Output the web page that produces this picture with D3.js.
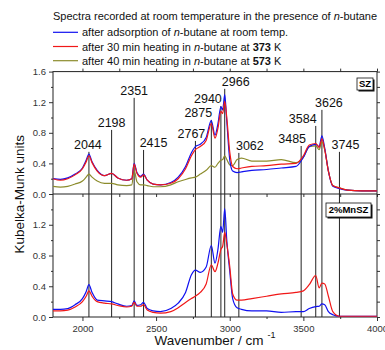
<!DOCTYPE html>
<html lang="en">
<head>
<meta charset="UTF-8">
<title>Kubelka-Munk spectra, SZ and 2%MnSZ</title>
<script src="https://d3js.org/d3.v7.min.js"></script>
<style>
    body { margin: 0; padding: 0; background: #fff; overflow: hidden; }
    svg { font-family: Arial, "Liberation Sans", sans-serif; }
    .tick text { font-size: 9.5px; fill: #333; }
    .tick line { stroke: #333; }
    .domain { display: none; }
    .spec { fill: none; stroke-width: 1.2; stroke-linejoin: round; }
    .peak { stroke: #222; stroke-width: 1; }
    .peak-label { font-size: 12.5px; fill: #111; text-anchor: middle; }
    .legend-text { font-size: 11px; fill: #111; }
</style>
</head>
<body>
<div id="chart"></div>
<script>
// wavenumbers (cm-1) shared by every spectrum
const wavenumber = [1800, 1850, 1900, 1950, 2000, 2025, 2044, 2065, 2100, 2150, 2198, 2240, 2300, 2335, 2351, 2370, 2395, 2415, 2440, 2480,
    2530, 2600, 2650, 2700, 2740, 2767, 2800, 2840, 2875, 2900, 2920, 2940, 2952, 2966, 2980, 3000, 3020, 3050, 3080, 3150,
    3250, 3350, 3450, 3500, 3540, 3584, 3607, 3626, 3645, 3670, 3700, 3745, 3800, 3900, 4000];

// SZ (top panel)
const szRoomTemp = [0.20, 0.19, 0.21, 0.26, 0.34, 0.44, 0.52, 0.42, 0.31, 0.24, 0.27, 0.21, 0.18, 0.20, 0.40, 0.28, 0.23, 0.26, 0.18, 0.13,
    0.12, 0.15, 0.22, 0.36, 0.54, 0.62, 0.65, 0.74, 0.96, 0.77, 0.92, 1.14, 1.10, 1.30, 0.95, 0.45, 0.30, 0.28, 0.29, 0.31,
    0.32, 0.34, 0.36, 0.48, 0.62, 0.65, 0.62, 0.76, 0.60, 0.30, 0.10, 0.07, 0.05, 0.04, 0.04];
const sz373 = [0.20, 0.18, 0.20, 0.25, 0.33, 0.42, 0.50, 0.41, 0.30, 0.24, 0.27, 0.21, 0.18, 0.20, 0.39, 0.27, 0.22, 0.25, 0.18, 0.13,
    0.12, 0.14, 0.20, 0.33, 0.50, 0.58, 0.62, 0.70, 0.92, 0.73, 0.86, 1.08, 1.05, 1.21, 1.00, 0.55, 0.36, 0.33, 0.34, 0.36,
    0.37, 0.39, 0.40, 0.50, 0.64, 0.66, 0.61, 0.72, 0.58, 0.30, 0.11, 0.08, 0.05, 0.04, 0.04];
const sz573 = [0.10, 0.09, 0.10, 0.13, 0.17, 0.22, 0.26, 0.22, 0.17, 0.14, 0.14, 0.12, 0.11, 0.12, 0.31, 0.16, 0.12, 0.12, 0.11, 0.095,
    0.095, 0.12, 0.16, 0.19, 0.21, 0.22, 0.26, 0.31, 0.37, 0.35, 0.40, 0.44, 0.45, 0.50, 0.45, 0.38, 0.37, 0.45, 0.47, 0.43,
    0.43, 0.45, 0.41, 0.48, 0.62, 0.63, 0.58, 0.68, 0.58, 0.30, 0.11, 0.08, 0.05, 0.04, 0.04];

// 2%MnSZ (bottom panel)
const mnRoomTemp = [0.10, 0.10, 0.11, 0.16, 0.24, 0.33, 0.42, 0.32, 0.22, 0.21, 0.20, 0.17, 0.14, 0.15, 0.21, 0.15, 0.16, 0.19, 0.11, 0.08,
    0.07, 0.11, 0.18, 0.32, 0.55, 0.61, 0.58, 0.65, 0.93, 0.70, 0.88, 1.18, 1.10, 1.41, 1.00, 0.60, 0.24, 0.12, 0.10, 0.08,
    0.08, 0.06, 0.07, 0.07, 0.11, 0.135, 0.14, 0.17, 0.16, 0.07, 0.03, 0.01, 0.01, 0.01, 0.01];
const mn373 = [0.08, 0.08, 0.09, 0.13, 0.20, 0.27, 0.34, 0.27, 0.20, 0.18, 0.17, 0.15, 0.13, 0.14, 0.19, 0.14, 0.14, 0.16, 0.09, 0.06,
    0.05, 0.07, 0.12, 0.19, 0.24, 0.27, 0.32, 0.43, 0.68, 0.59, 0.70, 0.88, 0.92, 1.10, 0.95, 0.66, 0.30, 0.22, 0.22, 0.24,
    0.27, 0.30, 0.32, 0.34, 0.42, 0.54, 0.38, 0.44, 0.43, 0.27, 0.07, 0.01, 0.01, 0.01, 0.01];

// marked bands
const peaks = [2044, 2198, 2351, 2415, 2767, 2875, 2940, 2966, 3062, 3485, 3584, 3626, 3745];
// label baseline height (in top-panel units) and sideways shift (px)
const peakLabelLevel = [0.59, 0.877, 1.296, 0.615, 0.733, 1.008, 1.19, 1.414, 0.576, 0.667, 0.929, 1.139, 0.59];
const peakLabelShift = [-1, 0, 0, 10, -4, -13, -13, 11, 11, -9, -13, 7, 6];

const xTicks = [2000, 2500, 3000, 3500, 4000];
const xMinor = [2250, 2750, 3250, 3750];
const yTicksTop = [0, 0.4, 0.8, 1.2, 1.6];
const yTicksBottom = [0, 0.4, 0.8, 1.2];
const yMinor = [0.2, 0.6, 1.0, 1.4];

const colors = { blue: "#1010f0", red: "#f01818", olive: "#8c8c2c" };

const W = 385, H = 350;
const pLeft = 53, pRight = 377, pTop = 71.6, pMid = 194, pBottom = 317;

const svg = d3.select("#chart").append("svg")
    .attr("width", W).attr("height", H);

const x = d3.scaleLinear().domain([1800, 4000]).range([pLeft, pRight]);
const yTop = d3.scaleLinear().domain([0, 1.6]).range([pMid, pTop]);
const yBot = d3.scaleLinear().domain([0, 1.6]).range([pBottom, pMid]);

// clip paths for each panel
const defs = svg.append("defs");
defs.append("clipPath").attr("id", "clipTop").append("rect")
    .attr("x", pLeft).attr("y", pTop).attr("width", pRight - pLeft).attr("height", pMid - pTop);
defs.append("clipPath").attr("id", "clipBot").append("rect")
    .attr("x", pLeft).attr("y", pMid).attr("width", pRight - pLeft).attr("height", pBottom - pMid);

// axes
const fmt = d3.format(".1f");
svg.append("g").attr("transform", `translate(${pLeft},0)`)
    .call(d3.axisLeft(yTop).tickValues(yTicksTop).tickFormat(fmt).tickSize(4).tickPadding(3));
svg.append("g").attr("transform", `translate(${pLeft},0)`)
    .call(d3.axisLeft(yTop).tickValues(yMinor).tickFormat("").tickSize(2));
svg.append("g").attr("transform", `translate(${pLeft},0)`)
    .call(d3.axisLeft(yBot).tickValues(yTicksBottom).tickFormat(fmt).tickSize(4).tickPadding(3));
svg.append("g").attr("transform", `translate(${pLeft},0)`)
    .call(d3.axisLeft(yBot).tickValues(yMinor).tickFormat("").tickSize(2));

svg.append("g").attr("transform", `translate(${pRight},0)`)
    .call(d3.axisRight(yTop).tickValues(yMinor.concat(yTicksTop)).tickFormat("").tickSize(3));
svg.append("g").attr("transform", `translate(${pRight},0)`)
    .call(d3.axisRight(yBot).tickValues(yMinor.concat(yTicksBottom)).tickFormat("").tickSize(3));

svg.append("g").attr("transform", `translate(0,${pBottom})`)
    .call(d3.axisBottom(x).tickValues(xTicks).tickFormat(d3.format("d")).tickSize(4).tickPadding(4));
svg.append("g").attr("transform", `translate(0,${pBottom})`)
    .call(d3.axisBottom(x).tickValues(xMinor).tickFormat("").tickSize(2));
svg.append("g").attr("transform", `translate(0,${pTop})`)
    .call(d3.axisTop(x).tickValues(xTicks.concat(xMinor)).tickFormat("").tickSize(3));
svg.append("g").attr("transform", `translate(0,${pMid})`)
    .call(d3.axisBottom(x).tickValues(xTicks.concat(xMinor)).tickFormat("").tickSize(3));

// frame
svg.append("rect")
    .attr("x", pLeft).attr("y", pTop).attr("width", pRight - pLeft).attr("height", pBottom - pTop)
    .attr("fill", "none").attr("stroke", "#222").attr("stroke-width", 1);
svg.append("line")
    .attr("x1", pLeft).attr("x2", pRight).attr("y1", pMid).attr("y2", pMid)
    .attr("stroke", "#222").attr("stroke-width", 1.2);

// peak marker lines and labels
const peakG = svg.append("g");
peaks.forEach((p, i) => {
    const yl = yTop(peakLabelLevel[i]);
    peakG.append("line").attr("class", "peak")
        .attr("x1", x(p)).attr("x2", x(p))
        .attr("y1", yl + 3).attr("y2", pBottom);
    peakG.append("text").attr("class", "peak-label")
        .attr("x", x(p) + peakLabelShift[i]).attr("y", yl)
        .text(p);
});

// spectra
function drawSpectrum(values, yScale, color, clip) {
    const line = d3.line()
        .x((d, i) => x(wavenumber[i]))
        .y(d => yScale(d))
        .curve(d3.curveMonotoneX);
    svg.append("path").attr("class", "spec")
        .attr("clip-path", `url(#${clip})`)
        .attr("stroke", color)
        .attr("d", line(values));
}
drawSpectrum(sz573, yTop, colors.olive, "clipTop");
drawSpectrum(szRoomTemp, yTop, colors.blue, "clipTop");
drawSpectrum(sz373, yTop, colors.red, "clipTop");
drawSpectrum(mnRoomTemp, yBot, colors.blue, "clipBot");
drawSpectrum(mn373, yBot, colors.red, "clipBot");

// sample boxes
function sampleBox(label, x0, y0, w, h) {
    svg.append("rect").attr("x", x0 + 1.5).attr("y", y0 + 1.5).attr("width", w).attr("height", h)
        .attr("fill", "#111");
    svg.append("rect").attr("x", x0).attr("y", y0).attr("width", w).attr("height", h)
        .attr("fill", "#fff").attr("stroke", "#111").attr("stroke-width", 0.8);
    svg.append("text").attr("x", x0 + w / 2).attr("y", y0 + h / 2 + 3.3)
        .attr("text-anchor", "middle").attr("font-size", "9.5px").attr("font-weight", "bold")
        .text(label);
}
sampleBox("SZ", 357, 78, 16, 12);
sampleBox("2%MnSZ", 326, 203, 45, 14);

// title and legend
const title = svg.append("text").attr("class", "legend-text").attr("x", 53).attr("y", 20);
title.append("tspan").text("Spectra recorded at room temperature in the presence of ");
title.append("tspan").attr("font-style", "italic").text("n");
title.append("tspan").text("-butane");

const legendRows = [
    { color: colors.blue, parts: [["after adsorption of "], ["n", "italic"], ["-butane at room temp."]] },
    { color: colors.red, parts: [["after 30 min heating in "], ["n", "italic"], ["-butane at "], ["373", "bold"], [" K"]] },
    { color: colors.olive, parts: [["after 40 min heating in "], ["n", "italic"], ["-butane at "], ["573", "bold"], [" K"]] }
];
legendRows.forEach((r, i) => {
    const yy = 32.3 + i * 14.2;
    svg.append("line").attr("x1", 53).attr("x2", 78).attr("y1", yy).attr("y2", yy)
        .attr("stroke", r.color).attr("stroke-width", 1.2);
    const t = svg.append("text").attr("class", "legend-text").attr("x", 82).attr("y", yy + 4);
    r.parts.forEach(p => {
        const s = t.append("tspan").text(p[0]);
        if (p[1] === "italic") s.attr("font-style", "italic");
        if (p[1] === "bold") s.attr("font-weight", "bold");
    });
});

// axis titles
svg.append("text")
    .attr("transform", `translate(24,${(pTop + pBottom) / 2}) rotate(-90)`)
    .attr("text-anchor", "middle").attr("font-size", "13.5px").attr("fill", "#111")
    .text("Kubelka-Munk units");

const xt = svg.append("text").attr("x", 215).attr("y", 345)
    .attr("text-anchor", "middle").attr("font-size", "13.5px").attr("fill", "#111");
xt.append("tspan").text("Wavenumber / cm");
xt.append("tspan").attr("font-size", "9px").attr("dx", 4).attr("dy", -7).text("-1");
</script>
</body>
</html>
